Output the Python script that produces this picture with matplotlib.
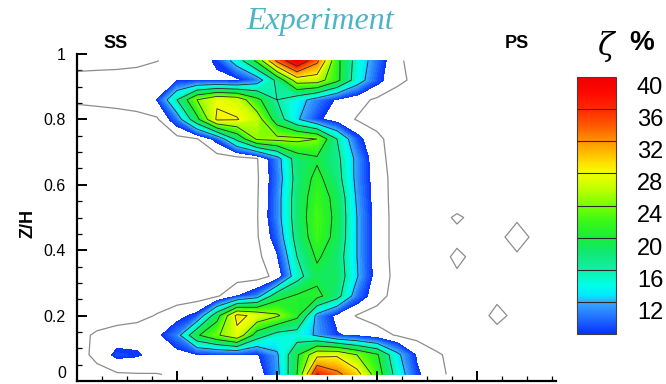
import numpy as np
import matplotlib
matplotlib.use("Agg")
import matplotlib.pyplot as plt
from matplotlib.colors import LinearSegmentedColormap, Normalize
from matplotlib.cm import ScalarMappable
from matplotlib.ticker import MultipleLocator

plt.rcParams['font.family'] = ['Liberation Sans', 'DejaVu Sans']

# measurement grid (pitch position, Z/H)
x_pos = [0.0, 0.2, 0.4, 0.6, 0.8, 1.0, 1.2, 1.4, 1.6, 1.8, 2.0, 2.2,
         2.4, 2.6, 2.8, 3.0, 3.2, 3.4, 3.6, 3.8, 4.0, 4.2, 4.4, 4.6]
z_pos = [0.02, 0.08, 0.14, 0.20, 0.26, 0.32, 0.38, 0.44, 0.50,
         0.56, 0.62, 0.68, 0.74, 0.80, 0.86, 0.92, 0.98]

# loss coefficient zeta in %, one row per Z/H value (bottom to top)
row_002 = [3.5, 4, 4.6, 4.8, 4.9, 5.3, 6, 6.3, 6.5, 6, 11, 20, 36.3, 33, 29.5, 22, 14.5, 8.5, 5.6, 4.3, 3.8, 3.5, 3.5, 3.5]
row_008 = [3.8, 5.8, 8.7, 8.3, 6.8, 6.8, 7.6, 7.8, 7.8, 7.6, 11.5, 19.5, 27, 27.5, 24, 20.5, 13, 7.5, 5.3, 4.2, 3.8, 3.6, 3.5, 3.5]
row_014 = [4, 5.5, 6.5, 6.8, 7.2, 10.5, 19.5, 23.5, 27, 18, 14.5, 14, 11.5, 8.2, 7.3, 6, 4.8, 4, 3.5, 3.6, 4, 4.5, 4.2, 4]
row_020 = [3.2, 3.3, 3.5, 4, 5.2, 6.8, 8.8, 18.5, 29, 27, 24.5, 21, 11, 7, 4.8, 4, 3.5, 3.5, 3.8, 4.2, 4.4, 5.4, 4.6, 4.2]
row_026 = [3.3, 3.3, 3.3, 3.3, 3.3, 3.4, 3.5, 4.6, 7.8, 10.5, 18.5, 20.5, 21, 17.5, 10, 6, 4, 3.7, 4, 4.3, 4.4, 4.7, 4.4, 4.2]
row_032 = [3.3, 3.3, 3.3, 3.3, 3.3, 3.4, 3.5, 3.6, 3.7, 3.8, 5.8, 14.5, 19, 18.5, 12.3, 6.5, 4.2, 3.8, 4.2, 4.8, 4.5, 4.4, 4.5, 4.3]
row_038 = [3.2, 3.2, 3.2, 3.2, 3.2, 3.3, 3.4, 3.5, 3.8, 4.2, 7.6, 16, 20.5, 18, 12, 6.5, 4, 3.8, 4.4, 5.3, 4.6, 4.5, 4.8, 4.4]
row_044 = [3.2, 3.2, 3.2, 3.2, 3.2, 3.3, 3.4, 3.5, 3.8, 4.7, 9.5, 17.5, 22, 19, 12, 6.5, 4, 3.8, 4.4, 4.6, 4.5, 4.6, 5.6, 4.6]
row_050 = [3.2, 3.2, 3.2, 3.2, 3.2, 3.3, 3.4, 3.5, 3.8, 4.8, 10.5, 18, 22.3, 19.2, 12, 6.5, 4, 3.8, 4.5, 5.2, 4.6, 4.5, 4.8, 4.4]
row_056 = [3.2, 3.2, 3.2, 3.2, 3.2, 3.3, 3.4, 3.5, 3.8, 4.7, 10.5, 18, 21.8, 19, 11.5, 6.3, 4, 3.7, 3.8, 4.2, 4.3, 4.3, 4.2, 4]
row_062 = [3.3, 3.3, 3.3, 3.3, 3.3, 3.3, 3.4, 3.5, 3.8, 4.6, 10, 17.5, 21, 17.5, 11, 6.2, 4, 3.6, 3.4, 3.2, 3.2, 3.2, 3.2, 3.2]
row_068 = [3.5, 3.5, 3.5, 3.5, 3.5, 3.5, 3.5, 3.6, 3.8, 4.8, 10.5, 18, 19.5, 17, 11, 5.8, 4, 3.5, 3.2, 3, 3, 3, 3, 3]
row_074 = [3.6, 3.6, 3.6, 3.6, 3.7, 4, 4.8, 9, 17, 24.5, 25, 25, 24, 16, 9, 5.5, 4, 3.5, 3, 3, 3, 3, 3, 3]
row_080 = [4, 4, 4, 4.2, 4.6, 10, 19, 28.6, 28.2, 26, 18, 12.5, 8.5, 6.5, 4.8, 4.2, 3.8, 3.5, 3, 3, 3, 3, 3, 3]
row_086 = [5.3, 5.5, 5.8, 6.2, 8, 16, 24, 27.5, 26.5, 21, 16, 13.5, 10.5, 7.5, 6, 4.5, 4, 3.5, 3, 3, 3, 3, 3, 3]
row_092 = [5.8, 6, 6.2, 6.5, 7, 7.6, 7.8, 7.6, 7.2, 10, 17, 26, 26, 21, 14, 9, 5.5, 4.5, 3.5, 3, 3, 3, 3, 3]
row_098 = [4, 4, 4, 4.2, 4.9, 6, 7, 8.3, 14, 21, 33, 40, 33, 21, 14.5, 10, 5.5, 4, 3.5, 3, 3, 3, 3, 3]

zeta = np.array([row_002, row_008, row_014, row_020, row_026, row_032, row_038,
                 row_044, row_050, row_056, row_062, row_068, row_074, row_080,
                 row_086, row_092, row_098])

line_levels = [12, 16, 20, 24, 28, 32, 36]
bar_ticks = [12, 16, 20, 24, 28, 32, 36, 40]

# tecplot-like rainbow
cmap = LinearSegmentedColormap.from_list('zeta', [
    (0.000, '#0a30ff'), (0.062, '#2070ff'), (0.125, '#38aaff'),
    (0.150, '#00eaff'), (0.190, '#00ffe6'), (0.250, '#10f0a8'),
    (0.320, '#10e870'), (0.375, '#18ee38'), (0.440, '#38f818'),
    (0.500, '#78ff00'), (0.560, '#bcff00'), (0.625, '#f4ff00'),
    (0.660, '#ffe400'), (0.750, '#ff9400'), (0.810, '#ff5a00'),
    (0.875, '#ff2a00'), (0.940, '#ff0800'), (1.000, '#f00000')])
norm = Normalize(8, 40)

fig = plt.figure(figsize=(6.66, 3.84), dpi=100)
ax = fig.add_axes([77 / 666, 3 / 384, 479 / 666, 327 / 384])

X, Y = np.meshgrid(x_pos, z_pos)
cs = ax.contourf(X, Y, zeta, levels=np.arange(8, 40.01, 0.5), cmap=cmap, norm=norm)
cs.set_edgecolor('face')
cs.set_linewidth(0.4)
ax.contour(X, Y, zeta, levels=line_levels, colors='#2a2a2a', linewidths=0.6)
ax.contour(X, Y, zeta, levels=[5], colors='#8c8c8c', linewidths=0.9)

ax.set_xlim(0, 4.79)
ax.set_ylim(0, 1)
ax.spines['top'].set_visible(False)
ax.spines['right'].set_visible(False)
for s in ('left', 'bottom'):
    ax.spines[s].set_linewidth(1.6)
ax.xaxis.set_major_locator(MultipleLocator(1))
ax.xaxis.set_minor_locator(MultipleLocator(0.25))
ax.yaxis.set_minor_locator(MultipleLocator(0.05))
ax.set_yticks([0, 0.2, 0.4, 0.6, 0.8, 1.0])
ax.set_yticklabels(['0', '0.2', '0.4', '0.6', '0.8', '1'])
ax.tick_params(which='major', direction='in', length=7, width=1.4,
               labelsize=11.5, pad=8)
ax.tick_params(which='minor', direction='in', length=3.5, width=0.9)
ax.tick_params(axis='x', labelbottom=False)
ax.get_yticklabels()[0].set_verticalalignment('bottom')

fig.text(28 / 666, 1 - 224 / 384, 'Z/H', rotation=90, ha='center', va='center',
         fontsize=13, fontweight='bold')
fig.text(116 / 666, 1 - 43 / 384, 'SS', ha='center', va='center',
         fontsize=13, fontweight='bold')
fig.text(517 / 666, 1 - 43 / 384, 'PS', ha='center', va='center',
         fontsize=13, fontweight='bold')
fig.text(320 / 666, 1 - 21 / 384, 'Experiment', ha='center', va='center',
         fontsize=23, fontstyle='italic', family='Liberation Serif',
         color='#4fb3c8')

# colour bar
cax = fig.add_axes([577 / 666, 1 - 334 / 384, 39 / 666, 257 / 384])
cb = fig.colorbar(ScalarMappable(norm=norm, cmap=cmap), cax=cax)
for v in line_levels:
    cax.axhline(v, color='#2a2a2a', lw=0.8)
cb.outline.set_linewidth(0.8)
cb.outline.set_edgecolor('#404040')
cb.set_ticks(bar_ticks)
cb.ax.tick_params(length=0, labelsize=17, pad=15)
for lab in cb.ax.get_yticklabels():
    lab.set_verticalalignment('top')
fig.text(606 / 666, 1 - 46 / 384, 'ζ', ha='center', va='center',
         fontsize=22, family='DejaVu Serif', fontstyle='italic')
fig.text(642 / 666, 1 - 43 / 384, '%', ha='center', va='center',
         fontsize=20, fontweight='bold')

fig.savefig('out.png', dpi=100)
